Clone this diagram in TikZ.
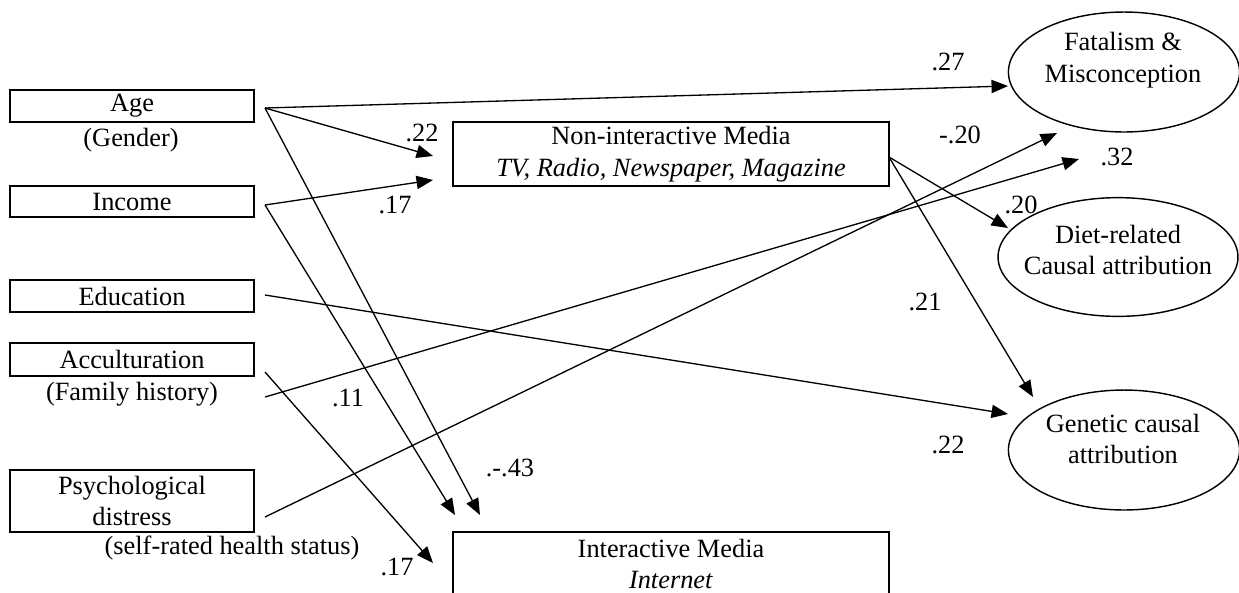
\documentclass[tikz,border=0pt]{standalone}
\usepackage{fontspec}
\setmainfont{Liberation Serif}
\usetikzlibrary{arrows.meta, positioning, shapes, calc}
\tikzset{
    every node/.style={font=\fontsize{12pt}{14.5pt}\selectfont}
}

\begin{document}
\begin{tikzpicture}[
    x=0.016cm, y=-0.016cm, % 1 unit = 1 pixel of the layout
    % Styles for the observed variables
    varbox/.style={rectangle, draw, line width=0.85pt, minimum width=3.904cm, inner sep=0pt},
    mediabox/.style={rectangle, draw, line width=0.85pt, minimum width=6.976cm, minimum height=1.024cm, align=center, inner sep=0pt},
    % Styles for the outcomes
    latent/.style={ellipse, draw, line width=0.65pt, inner sep=0pt},
    latenttext/.style={align=center, inner sep=0pt},
    % Styles for the paths
    effect/.style={-{Triangle[length=7.5pt,width=6pt]}, line width=0.6pt},
    % Styles for the text
    coef/.style={inner sep=0pt},
    note/.style={inner sep=0pt}
]
\useasboundingbox (0,0) rectangle (1239,592);

% === PREDICTORS ===
\node[varbox, minimum height=0.512cm] (age) at (132,106) {Age};
\node[note] (gender) at (131,140) {(Gender)};
\node[varbox, minimum height=0.5cm] (income) at (132,201.5) {Income};
\node[varbox, minimum height=0.512cm] (educ) at (132,296) {Education};
\node[varbox, minimum height=0.528cm] (accult) at (132,359.5) {Acculturation};
\node[note] (famhist) at (132,394) {(Family history)};
\node[varbox, minimum height=0.992cm, align=center] (psych) at (132,501) {Psychological\\distress};
\node[note] (selfrated) at (232,548) {(self-rated health status)};

% === MEDIA ===
\node[mediabox] (nonint) at (671,154) {Non-interactive Media\\\textit{TV, Radio, Newspaper, Magazine}};
\node[mediabox] (inter) at (671,564) {Interactive Media\\\textit{Internet}};

% === OUTCOMES ===
\node[latent, minimum width=3.7cm, minimum height=1.92cm] (fatal) at (1124,72) {};
\node[latenttext] (fataltxt) at (1123,60) {Fatalism \&\\Misconception};
\node[latent, minimum width=3.84cm, minimum height=1.9cm] (diet) at (1118,257) {};
\node[latenttext] (diettxt) at (1118,250) {Diet-related\\Causal attribution};
\node[latent, minimum width=3.7cm, minimum height=1.92cm] (genetic) at (1124,450) {};
\node[latenttext] (genetictxt) at (1123,439) {Genetic causal\\attribution};

% === PATH END POINTS ===
\coordinate (ageout) at (265,108);
\coordinate (incout) at (265,205);
\coordinate (eduout) at (265,295);
\coordinate (accout) at (265,372);
\coordinate (famout) at (265,397);
\coordinate (psyout) at (265,517);
\coordinate (nimout) at (889,157);
\coordinate (nimin1) at (433,156);
\coordinate (nimin2) at (433,180);
\coordinate (imin1) at (455,515);
\coordinate (imin2) at (480,515);
\coordinate (imin3) at (433,563);
\coordinate (fatin) at (1008,86);
\coordinate (negin) at (1057,133);
\coordinate (posin) at (1079,159);
\coordinate (dietin) at (1008,228);
\coordinate (genin1) at (1008,414);
\coordinate (genin2) at (1033,397);

% === PATHS ===
\draw[effect] (ageout) -- (fatin);
\draw[effect] (ageout) -- (nimin1);
\draw[effect] (ageout) -- (imin2);
\draw[effect] (incout) -- (nimin2);
\draw[effect] (incout) -- (imin1);
\draw[effect] (eduout) -- (genin1);
\draw[effect] (accout) -- (imin3);
\draw[effect] (famout) -- (posin);
\draw[effect] (psyout) -- (negin);
\draw[effect] (nimout) -- (dietin);
\draw[effect] (nimout) -- (genin2);

% === COEFFICIENTS ===
\node[coef] (c27) at (948,62) {.27};
\node[coef] (c22a) at (422,133) {.22};
\node[coef] (c17a) at (395,205) {.17};
\node[coef] (cn20) at (960,135) {-.20};
\node[coef] (c32) at (1117,157) {.32};
\node[coef] (c20) at (1021,205) {.20};
\node[coef] (c21) at (925,302) {.21};
\node[coef] (c22b) at (948,445) {.22};
\node[coef] (c11) at (348,398) {.11};
\node[coef] (cn43) at (510,468) {.-.43};
\node[coef] (c17b) at (397,567) {.17};

\end{tikzpicture}
\end{document}
